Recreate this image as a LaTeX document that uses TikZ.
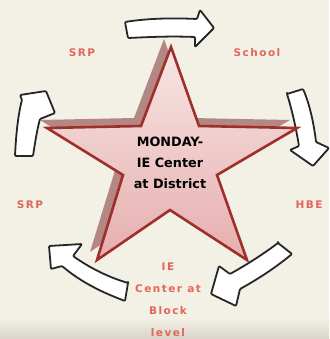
\documentclass[tikz,border=0pt]{standalone}
\usepackage{fontspec}
\newfontfamily\starfont{DejaVu Sans}
\newfontfamily\lblfont[LetterSpace=14]{DejaVu Sans}
\definecolor{bgcream}{HTML}{F3F0E6}
\definecolor{bgband}{HTML}{D8D4CA}
\definecolor{starborder}{HTML}{9E2F2B}
\definecolor{startop}{HTML}{F7E6E4}
\definecolor{starbot}{HTML}{E6AEAE}
\definecolor{starshadow}{HTML}{B38884}
\definecolor{lblred}{HTML}{E2675A}
\tikzset{
  blockarrow/.style={draw=black!85, fill=white, line width=1.8pt, rounded corners=1pt, line join=round},
  lbl/.style={text=lblred, font=\lblfont\bfseries\fontsize{10.5}{22}\selectfont, align=center, inner sep=0pt},
  startext/.style={font=\starfont\bfseries\fontsize{12.8}{21}\selectfont, align=center, inner sep=0pt, text=black}
}
\begin{document}
\begin{tikzpicture}[x=1pt,y=-1pt]
\useasboundingbox (0,0) rectangle (329,339);
% background
\fill[bgcream] (0,0) rectangle (329,339);
\fill[bottom color=bgband, top color=bgcream] (0,318) rectangle (329,339);
% labels (under arrows)
\node[lbl] (srpTop) at (82,53) {SRP};
\node[lbl] (school) at (257,53) {School};
\node[lbl] (srpLeft) at (30,205) {SRP};
\node[lbl] (hbe) at (309,205) {HBE};
\node[lbl] (block) at (168,300) {IE\\Center at\\Block\\level};
% arrows
\draw[blockarrow] (125,22) .. controls (150,18) and (175,18) .. (197,19) -- (200,10) -- (214,28) -- (195,47) -- (195,37) .. controls (170,36) and (150,37) .. (128,38) -- cycle;
\draw[blockarrow] (287,94) -- (303,89) .. controls (310,105) and (314,125) .. (316,142) -- (329,148) -- (313,166) -- (290,150) -- (299,146) .. controls (296,128) and (292,110) .. cycle;
\draw[blockarrow] (278,243) -- (292,254) .. controls (275,268) and (258,279) .. (240,289) -- (236,306) -- (211,294) -- (219,266) -- (230,274) .. controls (246,265) and (262,255) .. cycle;
\draw[blockarrow] (128,283) -- (125,301) .. controls (104,293) and (82,283) .. (62,266) -- (51,269) -- (49,246) -- (82,244) -- (73,256) .. controls (90,268) and (108,277) .. cycle;
\draw[blockarrow] (15,156) .. controls (16,135) and (18,115) .. (22,100) -- (20,95) -- (46,91) -- (55,113) -- (40,119) .. controls (37,130) and (35,143) .. (33,156) -- cycle;
% star shadow
\fill[starshadow] (164,39) -- (192,118) -- (290,120) -- (210,167) -- (240,252) -- (163,202) -- (90,252) -- (116,167) -- (40,120) -- (134,118) -- cycle;
% star
\draw[starborder, line width=2.6pt, line join=miter, top color=startop, bottom color=starbot]
  (171,47) -- (199,126) -- (297,128) -- (217,175) -- (247,260) -- (170,210) -- (97,260) -- (123,175) -- (47,128) -- (141,126) -- cycle;
\node[startext] (monday) at (170,163) {MONDAY-\\IE Center\\at District};
\end{tikzpicture}
\end{document}
